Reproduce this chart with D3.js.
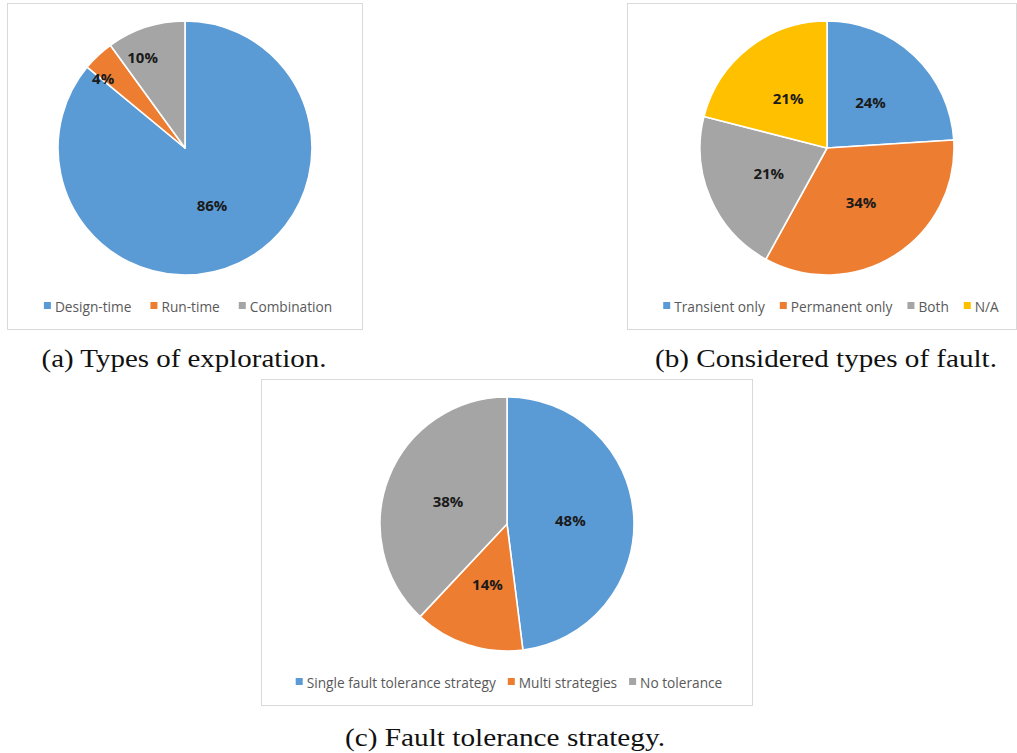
<!DOCTYPE html>
<html>
<head>
<meta charset="utf-8">
<script src="https://cdn.jsdelivr.net/npm/d3@7"></script>
<style>
  html, body { margin: 0; padding: 0; background: #fff; }
  svg { display: block; }
</style>
</head>
<body>
<svg id="chart" width="1017" height="753"></svg>
<script>
// ---------- data ----------
const categoriesA = ["Design-time", "Run-time", "Combination"];
const valuesA = [86, 4, 10];
const captionA = "(a) Types of exploration.";

const categoriesB = ["Transient only", "Permanent only", "Both", "N/A"];
const valuesB = [24, 34, 21, 21];
const captionB = "(b) Considered types of fault.";

const categoriesC = ["Single fault tolerance strategy", "Multi strategies", "No tolerance"];
const valuesC = [48, 14, 38];
const captionC = "(c) Fault tolerance strategy.";

const seriesColors = ["#5B9BD5", "#ED7D31", "#A5A5A5", "#FFC000"];

// ---------- layout (styles / positions) ----------
const panels = [
  { cats: categoriesA, vals: valuesA, caption: captionA,
    frame: { x: 7, y: 3, w: 355, h: 326 }, cx: 185, cy: 148, r: 127,
    legendY: 306, legendCx: 188, legendGap: 19, capY: 367, capW: 285, capCx: 184 },
  { cats: categoriesB, vals: valuesB, caption: captionB,
    frame: { x: 627, y: 3, w: 389, h: 326 }, cx: 827, cy: 148, r: 127,
    legendY: 306, legendCx: 831, legendGap: 15, capY: 367, capW: 342, capCx: 826 },
  { cats: categoriesC, vals: valuesC, caption: captionC,
    frame: { x: 261, y: 379, w: 491, h: 326 }, cx: 507, cy: 524, r: 127,
    legendY: 682, legendCx: 509, legendGap: 12, capY: 746, capW: 320, capCx: 505 }
];

const svg = d3.select("#chart");

panels.forEach(p => {
  const g = svg.append("g");

  // frame
  g.append("rect")
    .attr("x", p.frame.x + 0.5).attr("y", p.frame.y + 0.5)
    .attr("width", p.frame.w).attr("height", p.frame.h)
    .attr("fill", "#fff").attr("stroke", "#d9d9d9").attr("stroke-width", 1);

  const color = d3.scaleOrdinal().domain(p.cats).range(seriesColors);
  const pie = d3.pie().sort(null).value(d => d.v);
  const data = p.cats.map((c, i) => ({ c, v: p.vals[i] }));
  const arcs = pie(data);
  const total = d3.sum(p.vals);

  const arc = d3.arc().innerRadius(0).outerRadius(p.r);

  const pg = g.append("g").attr("transform", `translate(${p.cx},${p.cy})`);
  pg.selectAll("path.slice").data(arcs).join("path")
    .attr("class", "slice")
    .attr("d", arc)
    .attr("fill", d => color(d.data.c))
    .attr("stroke", "#fff")
    .attr("stroke-width", 1.6)
    .attr("stroke-linejoin", "round");

  // labels: inside at half radius, small slices pushed outward (best fit)
  pg.selectAll("text.lbl").data(arcs).join("text")
    .attr("class", "lbl")
    .attr("transform", d => {
      const frac = d.data.v / total;
      const lr = frac < 0.05 ? p.r * 0.85 : (frac < 0.12 ? p.r * 0.8 : p.r * 0.5);
      const la = d3.arc().innerRadius(lr).outerRadius(lr);
      let [x, y] = la.centroid(d);
      if (frac >= 0.05 && frac < 0.12) { x -= 11; y += 6; }
      if (frac < 0.05) { x -= 8; y += 9; }
      return `translate(${x},${y})`;
    })
    .attr("text-anchor", "middle")
    .attr("dominant-baseline", "central")
    .attr("font-family", "'Open Sans', 'Liberation Sans', sans-serif")
    .attr("font-weight", "bold")
    .attr("font-size", 15)
    .attr("fill", "#1a1a1a")
    .text(d => Math.round(d.data.v / total * 100) + "%");

  // legend
  const lg = g.append("g");
  const items = lg.selectAll("g.item").data(p.cats).join("g").attr("class", "item");
  items.append("rect")
    .attr("width", 7).attr("height", 7)
    .attr("y", -4)
    .attr("fill", d => color(d));
  items.append("text")
    .attr("x", 11)
    .attr("y", 0)
    .attr("dominant-baseline", "central")
    .attr("font-family", "'Open Sans', 'Liberation Sans', sans-serif")
    .attr("font-size", 13.7)
    .attr("fill", "#595959")
    .text(d => d);
  let xpos = 0;
  const widths = [];
  items.each(function () {
    const w = 11 + this.querySelector("text").getComputedTextLength();
    widths.push(w);
  });
  const totalW = d3.sum(widths) + p.legendGap * (widths.length - 1);
  items.attr("transform", (d, i) => {
    const x = xpos;
    xpos += widths[i] + p.legendGap;
    return `translate(${x},0)`;
  });
  lg.attr("transform", `translate(${p.legendCx - totalW / 2},${p.legendY})`);

  // caption
  svg.append("text")
    .attr("x", p.capCx)
    .attr("y", p.capY)
    .attr("text-anchor", "middle")
    .attr("font-family", "'Liberation Serif', 'DejaVu Serif', serif")
    .attr("font-size", 26)
    .attr("fill", "#111")
    .attr("textLength", p.capW)
    .attr("lengthAdjust", "spacingAndGlyphs")
    .text(p.caption);
});
</script>
</body>
</html>
